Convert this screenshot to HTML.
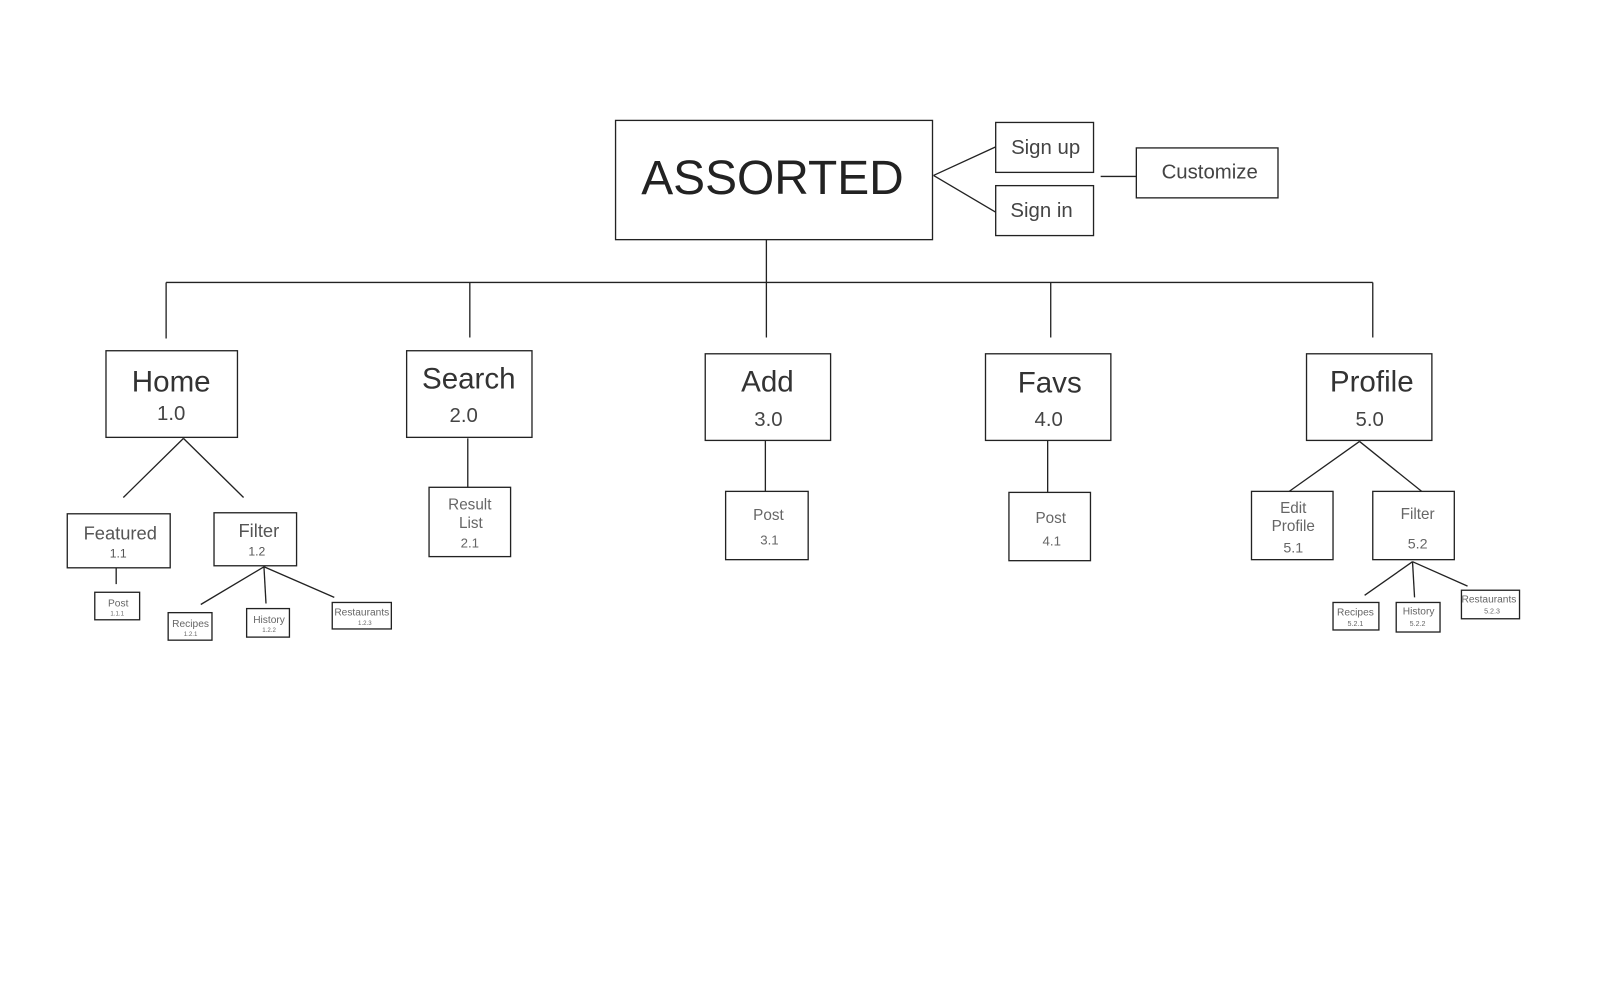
<!DOCTYPE html>
<html><head><meta charset="utf-8"><style>
html,body{margin:0;padding:0;background:#fff;}
svg{display:block;}
text{font-family:"Liberation Sans",sans-serif;text-anchor:middle;}
.b{fill:#fff;stroke:#222;stroke-width:1.3;}
.l{stroke:#222;stroke-width:1.3;fill:none;}
.s{fill:#666;}
</style></head><body>
<svg width="1598" height="996" viewBox="0 0 1568 977" xmlns="http://www.w3.org/2000/svg">
<g class="l">
<line x1="916" y1="172" x2="977" y2="144"/>
<line x1="916" y1="172" x2="977" y2="208"/>
<line x1="1080" y1="173" x2="1115" y2="173"/>
<line x1="752" y1="235" x2="752" y2="331"/>
<line x1="163" y1="277" x2="1347" y2="277"/>
<line x1="163" y1="277" x2="163" y2="332"/>
<line x1="461" y1="277" x2="461" y2="331"/>
<line x1="1031" y1="277" x2="1031" y2="331"/>
<line x1="1347" y1="277" x2="1347" y2="331"/>
<line x1="180" y1="430" x2="121" y2="488"/>
<line x1="180" y1="430" x2="239" y2="488"/>
<line x1="114" y1="557" x2="114" y2="573"/>
<line x1="259" y1="556" x2="197" y2="593"/>
<line x1="259" y1="556" x2="261" y2="592"/>
<line x1="259" y1="556" x2="328" y2="586"/>
<line x1="459" y1="430" x2="459" y2="478"/>
<line x1="751" y1="432" x2="751" y2="482"/>
<line x1="1028" y1="432" x2="1028" y2="483"/>
<line x1="1334" y1="433" x2="1265" y2="482"/>
<line x1="1334" y1="433" x2="1395" y2="482"/>
<line x1="1386" y1="551" x2="1339" y2="584"/>
<line x1="1386" y1="551" x2="1388" y2="586"/>
<line x1="1386" y1="551" x2="1440" y2="575"/>
</g>
<rect class="b" x="604" y="118" width="311" height="117"/>
<text x="758" y="190" font-size="47" fill="#222">ASSORTED</text>
<rect class="b" x="977" y="120" width="96" height="49"/>
<text x="1026" y="151" font-size="20" fill="#444">Sign up</text>
<rect class="b" x="977" y="182" width="96" height="49"/>
<text x="1022" y="213" font-size="20" fill="#444">Sign in</text>
<rect class="b" x="1115" y="145" width="139" height="49"/>
<text x="1187" y="175" font-size="20" fill="#444">Customize</text>

<rect class="b" x="104" y="344" width="129" height="85"/>
<text x="168" y="384" font-size="29" fill="#333">Home</text>
<text x="168" y="412" font-size="20" fill="#444">1.0</text>
<rect class="b" x="399" y="344" width="123" height="85"/>
<text x="460" y="381" font-size="29" fill="#333">Search</text>
<text x="455" y="414" font-size="20" fill="#444">2.0</text>
<rect class="b" x="692" y="347" width="123" height="85"/>
<text x="753" y="384" font-size="29" fill="#333">Add</text>
<text x="754" y="418" font-size="20" fill="#444">3.0</text>
<rect class="b" x="967" y="347" width="123" height="85"/>
<text x="1030" y="385" font-size="29" fill="#333">Favs</text>
<text x="1029" y="418" font-size="20" fill="#444">4.0</text>
<rect class="b" x="1282" y="347" width="123" height="85"/>
<text x="1346" y="384" font-size="29" fill="#333">Profile</text>
<text x="1344" y="418" font-size="20" fill="#444">5.0</text>

<rect class="b" x="66" y="504" width="101" height="53"/>
<text x="118" y="529" font-size="18" fill="#555">Featured</text>
<text x="116" y="547" font-size="12" fill="#555">1.1</text>
<rect class="b" x="210" y="503" width="81" height="52"/>
<text x="254" y="527" font-size="18" fill="#555">Filter</text>
<text x="252" y="545" font-size="12" fill="#555">1.2</text>
<rect class="b" x="93" y="581" width="44" height="27"/>
<text x="116" y="595" font-size="10" class="s">Post</text>
<text x="115" y="604" font-size="6" class="s">1.1.1</text>
<rect class="b" x="165" y="601" width="43" height="27"/>
<text x="187" y="615" font-size="10" class="s">Recipes</text>
<text x="187" y="624" font-size="6" class="s">1.2.1</text>
<rect class="b" x="242" y="597" width="42" height="28"/>
<text x="264" y="611" font-size="10" class="s">History</text>
<text x="264" y="620" font-size="6" class="s">1.2.2</text>
<rect class="b" x="326" y="591" width="58" height="26"/>
<text x="355" y="604" font-size="10" class="s">Restaurants</text>
<text x="358" y="613" font-size="6" class="s">1.2.3</text>

<rect class="b" x="421" y="478" width="80" height="68"/>
<text x="461" y="500" font-size="15" class="s">Result</text>
<text x="462" y="518" font-size="15" class="s">List</text>
<text x="461" y="537" font-size="13" class="s">2.1</text>
<rect class="b" x="712" y="482" width="81" height="67"/>
<text x="754" y="510" font-size="15" class="s">Post</text>
<text x="755" y="534" font-size="13" class="s">3.1</text>
<rect class="b" x="990" y="483" width="80" height="67"/>
<text x="1031" y="513" font-size="15" class="s">Post</text>
<text x="1032" y="535" font-size="13" class="s">4.1</text>

<rect class="b" x="1228" y="482" width="80" height="67"/>
<text x="1269" y="503" font-size="15" class="s">Edit</text>
<text x="1269" y="521" font-size="15" class="s">Profile</text>
<text x="1269" y="542" font-size="14" class="s">5.1</text>
<rect class="b" x="1347" y="482" width="80" height="67"/>
<text x="1391" y="509" font-size="15" class="s">Filter</text>
<text x="1391" y="538" font-size="14" class="s">5.2</text>
<rect class="b" x="1308" y="591" width="45" height="27"/>
<text x="1330" y="604" font-size="10" class="s">Recipes</text>
<text x="1330" y="614" font-size="7" class="s">5.2.1</text>
<rect class="b" x="1370" y="591" width="43" height="29"/>
<text x="1392" y="603" font-size="10" class="s">History</text>
<text x="1391" y="614" font-size="7" class="s">5.2.2</text>
<rect class="b" x="1434" y="579" width="57" height="28"/>
<text x="1461" y="591" font-size="10" class="s">Restaurants</text>
<text x="1464" y="602" font-size="7" class="s">5.2.3</text>
</svg>
</body></html>
